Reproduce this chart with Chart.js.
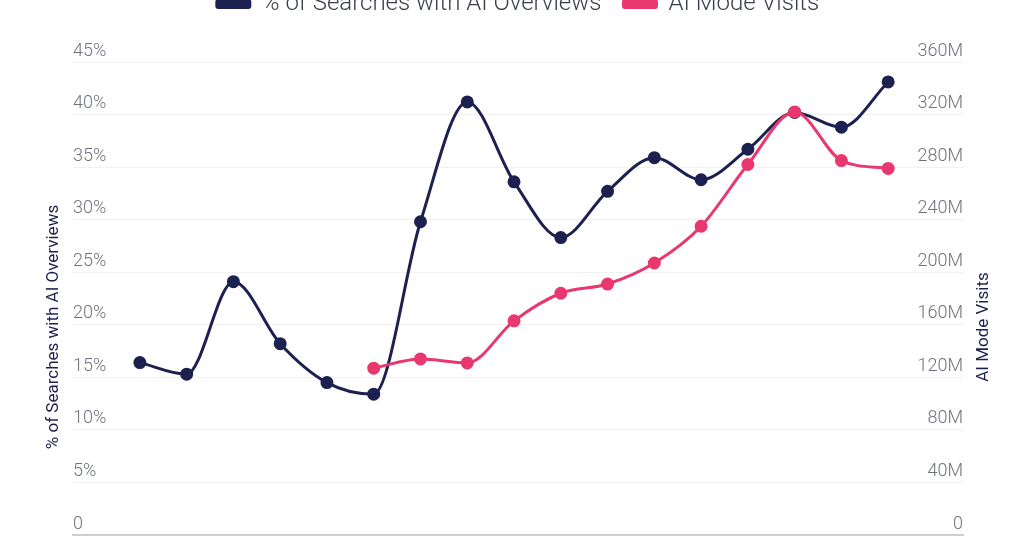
<!DOCTYPE html>
<html>
<head>
<meta charset="utf-8">
<script src="https://cdn.jsdelivr.net/npm/chart.js@4"></script>
<style>
  html, body { margin: 0; padding: 0; background: #fff; overflow: hidden; }
  #wrap { position: absolute; left: 0; top: -36px; width: 1024px; height: 592px; }
</style>
</head>
<body>
<div id="wrap"><canvas id="chart"></canvas></div>
<script>
// month index for each point (x labels are cropped off in the source)
const points = [0, 1, 2, 3, 4, 5, 6, 7, 8, 9, 10, 11, 12, 13, 14, 15, 16];
const overviewShare = [16.4, 15.3, 24.1, 18.2, 14.5, 13.4, 29.8, 41.2, 33.6, 28.3, 32.7, 35.9, 33.8, 36.7, 40.2, 38.8, 43.1];
const modeVisits = [null, null, null, null, null, 127, 134, 131, 163, 184, 191, 207, 235, 282, 322, 285, 279];
const leftTicks = [0, 5, 10, 15, 20, 25, 30, 35, 40, 45];
const rightTicks = [0, 40, 80, 120, 160, 200, 240, 280, 320, 360];
const seriesNames = ["% of Searches with AI Overviews", "AI Mode Visits"];
const axisTitles = ["% of Searches with AI Overviews", "AI Mode Visits"];

const NAVY = "#1c2150";
const PINK = "#e8386f";

// y-axis titles, centred a bit lower than the plot area like in the source
const axisTitlePlugin = {
  id: "axisTitles",
  afterDraw(chart) {
    const ctx = chart.ctx;
    const mid = 363;
    ctx.save();
    ctx.fillStyle = NAVY;
    ctx.font = "400 17px Roboto";
    ctx.textAlign = "center";
    ctx.textBaseline = "middle";
    [[54, axisTitles[0]], [984, axisTitles[1]]].forEach(([x, text]) => {
      ctx.save();
      ctx.translate(x, mid);
      ctx.rotate(-Math.PI / 2);
      ctx.fillText(text, 0, 0);
      ctx.restore();
    });
    ctx.restore();
  },
};

// extra room under the legend
const legendGap = {
  id: "legendGap",
  beforeInit(chart) {
    const fit = chart.legend.fit;
    chart.legend.fit = function () {
      fit.bind(chart.legend)();
      this.height += 36;
    };
  },
};

new Chart(document.getElementById("chart"), {
  type: "line",
  data: {
    datasets: [
      {
        label: seriesNames[0],
        data: points.map((x, i) => ({ x: x, y: overviewShare[i] })),
        borderColor: NAVY,
        backgroundColor: NAVY,
        pointBackgroundColor: NAVY,
        yAxisID: "y",
        order: 2,
      },
      {
        label: seriesNames[1],
        data: points.map((x, i) => ({ x: x, y: modeVisits[i] })),
        borderColor: PINK,
        backgroundColor: PINK,
        pointBackgroundColor: PINK,
        yAxisID: "y1",
        order: 1,
      },
    ],
  },
  options: {
    responsive: true,
    maintainAspectRatio: false,
    animation: false,
    layout: { padding: { left: 73, right: 61, top: 6, bottom: 21 } },
    elements: {
      line: { borderWidth: 3, cubicInterpolationMode: "monotone" },
      point: { radius: 5.5, borderWidth: 2, borderColor: "#fff" },
    },
    plugins: {
      legend: {
        position: "top",
        labels: {
          sort: (a, b) => a.datasetIndex - b.datasetIndex,
          boxWidth: 33,
          boxHeight: 7,
          useBorderRadius: true,
          borderRadius: 1.5,
          padding: 22,
          color: "#3b3e4a",
          font: { family: "Roboto", size: 24, weight: "300" },
        },
      },
      tooltip: { enabled: false },
    },
    scales: {
      x: {
        type: "linear",
        min: -1.43,
        max: 17.6,
        ticks: { display: false },
        grid: { display: false, drawTicks: false },
        border: { display: true, color: "#cfcfcf", width: 2 },
      },
      y: {
        position: "left",
        min: 0,
        max: 45,
        afterBuildTicks: (axis) => { axis.ticks = leftTicks.map(v => ({ value: v })); },
        ticks: {
          mirror: true,
          padding: 0,
          labelOffset: -11,
          color: "#70737d",
          font: { family: "Roboto", size: 18, weight: "300" },
          callback: (v) => (v === 0 ? "0" : v + "%"),
        },
        grid: { color: "#f1f1f1", lineWidth: 1, drawTicks: false },
        border: { display: false },
      },
      y1: {
        position: "right",
        min: 0,
        max: 360,
        afterBuildTicks: (axis) => { axis.ticks = rightTicks.map(v => ({ value: v })); },
        ticks: {
          mirror: true,
          padding: 0,
          labelOffset: -11,
          color: "#70737d",
          font: { family: "Roboto", size: 18, weight: "300" },
          callback: (v) => (v === 0 ? "0" : v + "M"),
        },
        grid: { drawOnChartArea: false, drawTicks: false },
        border: { display: false },
      },
    },
  },
  plugins: [axisTitlePlugin, legendGap],
});
</script>
</body>
</html>
